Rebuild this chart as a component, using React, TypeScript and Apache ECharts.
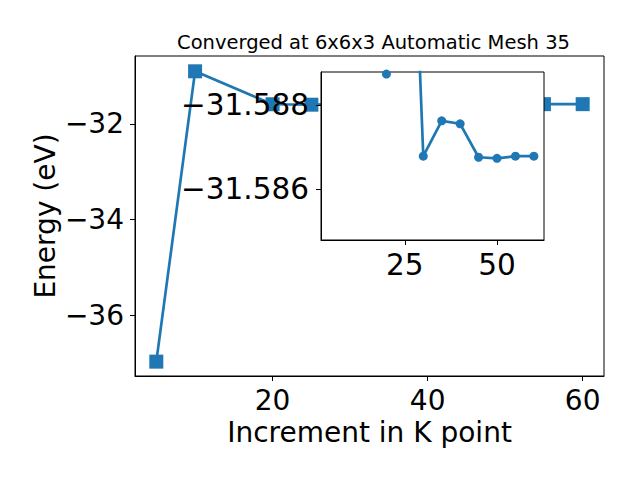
import React, { useEffect, useRef } from "react";
import * as echarts from "echarts";

const kpoints = [5, 10, 20, 25, 30, 35, 40, 45, 50, 55, 60];
const energies = [
  -36.97, -30.9, -31.58873, -31.5979, -31.58678, -31.58762, -31.58755,
  -31.586755, -31.58673, -31.58678, -31.58678,
];
// the inset plots the points from 20 onward
const insetStart = 2;
const mainXTicks = [20, 40, 60];
const mainYTicks = [-32, -34, -36];
const insetXTicks = [25, 50];
const insetYTicks = [-31.588, -31.586];
const titleText = "Converged at 6x6x3 Automatic Mesh 35";
const xName = "Increment in K point";
const yName = "Energy (eV)";

const FONT = "DejaVu Sans";
const BLUE = "#1f77b4";

const MAIN = { left: 135, top: 56, width: 469, height: 320 };
const INSET = { left: 321, top: 72, width: 223, height: 168 };

export default function App() {
  const ref = useRef<HTMLDivElement>(null);
  useEffect(() => {
    if (!ref.current) return;
    const chart = echarts.init(ref.current, null, { renderer: "svg" });
    const pts = kpoints.map((k, i) => [k, energies[i]]);
    const insetPts = pts.slice(insetStart);
    const base = {
      type: "value" as const,
      axisLine: { show: true, onZero: false, lineStyle: { color: "#000", width: 1 } },
      splitLine: { show: false },
    };
    const minus = (s: string) => s.replace("-", "\u2212");
    chart.setOption({
      animation: false,
      backgroundColor: "#fff",
      title: {
        text: titleText,
        left: MAIN.left + MAIN.width / 2 - 1,
        textAlign: "center",
        top: 27,
        textStyle: { fontFamily: FONT, fontSize: 19.5, fontWeight: "normal", color: "#000" },
      },
      grid: [
        { ...MAIN, show: true, borderColor: "#000", borderWidth: 1, backgroundColor: "transparent", containLabel: false },
        { ...INSET, show: false, containLabel: false },
      ],
      xAxis: [
        {
          ...base,
          gridIndex: 0,
          min: 2.25,
          max: 62.75,
          axisLabel: { color: "#000", fontSize: 28, fontFamily: FONT, margin: 10, customValues: mainXTicks },
          axisTick: { show: true, length: 5, lineStyle: { color: "#000" }, customValues: mainXTicks },
          name: xName,
          nameLocation: "middle",
          nameGap: 42,
          nameTextStyle: { fontFamily: FONT, fontSize: 28, color: "#000" },
        },
        {
          ...base,
          gridIndex: 1,
          min: 2.25,
          max: 62.75,
          z: 21,
          axisLabel: { color: "#000", fontSize: 29.5, fontFamily: FONT, margin: 10, customValues: insetXTicks },
          axisTick: { show: true, length: 5, lineStyle: { color: "#000" }, customValues: insetXTicks },
        },
      ],
      yAxis: [
        {
          ...base,
          gridIndex: 0,
          min: -37.27,
          max: -30.58,
          axisLabel: { color: "#000", fontSize: 28, fontFamily: FONT, margin: 11, customValues: mainYTicks, formatter: (v: number) => minus(String(v)) },
          axisTick: { show: true, length: 5, lineStyle: { color: "#000" }, customValues: mainYTicks },
          name: yName,
          nameLocation: "middle",
          nameGap: 76,
          nameMoveOverlap: false,
          nameTextStyle: { fontFamily: FONT, fontSize: 28, color: "#000" },
        },
        {
          ...base,
          gridIndex: 1,
          min: -31.58878,
          max: -31.58479,
          inverse: true,
          z: 21,
          axisLabel: { color: "#000", fontSize: 29.5, fontFamily: FONT, margin: 12, customValues: insetYTicks, formatter: (v: number) => minus(v.toFixed(3)) },
          axisTick: { show: true, length: 5, lineStyle: { color: "#000" }, customValues: insetYTicks },
        },
      ],
      graphic: [
        {
          type: "rect",
          z: 10,
          shape: { x: INSET.left, y: INSET.top, width: INSET.width, height: INSET.height },
          style: { fill: "#fff", stroke: "#000", lineWidth: 1 },
        },
      ],
      series: [
        {
          type: "line",
          xAxisIndex: 0,
          yAxisIndex: 0,
          data: pts,
          symbol: "rect",
          symbolSize: 14,
          showSymbol: true,
          lineStyle: { color: BLUE, width: 2.7 },
          itemStyle: { color: BLUE },
          z: 2,
        },
        {
          type: "line",
          xAxisIndex: 1,
          yAxisIndex: 1,
          data: insetPts,
          symbol: "circle",
          symbolSize: 9,
          showSymbol: true,
          clip: true,
          lineStyle: { color: BLUE, width: 2.7 },
          itemStyle: { color: BLUE },
          z: 20,
        },
      ],
    });
    return () => chart.dispose();
  }, []);
  return <div ref={ref} style={{ position: "absolute", left: 0, top: 0, width: 640, height: 480 }} />;
}
